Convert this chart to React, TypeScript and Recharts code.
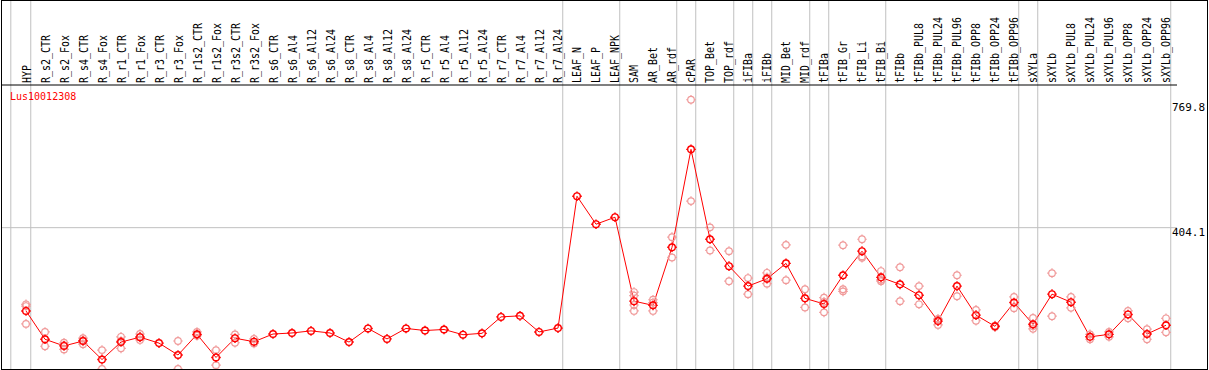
import React from 'react';
import { ComposedChart, Line, Scatter, XAxis, YAxis, ReferenceLine } from 'recharts';

const categories = [
  'HYP', 'R_s2_CTR', 'R_s2_Fox', 'R_s4_CTR', 'R_s4_Fox', 'R_r1_CTR', 'R_r1_Fox', 'R_r3_CTR', 'R_r3_Fox',
  'R_r1s2_CTR', 'R_r1s2_Fox', 'R_r3s2_CTR', 'R_r3s2_Fox', 'R_s6_CTR', 'R_s6_Al4', 'R_s6_Al12', 'R_s6_Al24',
  'R_s8_CTR', 'R_s8_Al4', 'R_s8_Al12', 'R_s8_Al24', 'R_r5_CTR', 'R_r5_Al4', 'R_r5_Al12', 'R_r5_Al24',
  'R_r7_CTR', 'R_r7_Al4', 'R_r7_Al12', 'R_r7_Al24', 'LEAF_N', 'LEAF_P', 'LEAF_NPK', 'SAM', 'AR_Bet', 'AR_rdf',
  'cPAR', 'TOP_Bet', 'TOP_rdf', 'iFIBa', 'iFIBb', 'MID_Bet', 'MID_rdf', 'tFIBa', 'tFIB_Gr', 'tFIB_Li', 'tFIB_Bi',
  'tFIBb', 'tFIBb_PUL8', 'tFIBb_PUL24', 'tFIBb_PUL96', 'tFIBb_OPP8', 'tFIBb_OPP24', 'tFIBb_OPP96', 'sXYLa',
  'sXYLb', 'sXYLb_PUL8', 'sXYLb_PUL24', 'sXYLb_PUL96', 'sXYLb_OPP8', 'sXYLb_OPP24', 'sXYLb_OPP96',
];

const means = [
  166, 85, 66, 80, 27, 77, 91, 74, 40, 99, 33, 88, 78,
  100, 103, 109, 103, 77, 116, 86, 116, 110, 113, 98, 102, 149, 152, 106, 117,
  494, 414, 434, 194, 182, 348, 628, 371, 294, 237, 258, 302, 202, 186, 268, 337, 262,
  242, 211, 137, 237, 154, 122, 190, 128, 214, 191, 92, 99, 156, 100, 125,
];

const rep1 = [
  185, 106, 75, 88, 54, 92, 100, null, 80, 106, 54, 99, 86,
  null, null, null, null, null, null, null, null, null, null, null, null, null, null, null, null,
  null, null, null, 220, 198, 377, 769.8, 405, 337, 260, 275, 355, 228, 204, 354, 371, 280,
  291, 237, 142, 268, 169, 124, 206, 146, 274, 206, 99, 106, 166, 114, 145,
];

const rep2 = [
  180, 65, 56, 71, 0, 59, 83, null, 0, 97, 11, 75, 73,
  null, null, null, null, null, null, null, null, null, null, null, null, null, null, null, null,
  null, null, null, 210, 166, 319, 480, 339, 251, 214, 244, 254, 176, 162, 228, 318, 255,
  194, 185, 126, 208, 138, 120, 174, 115, 151, 175, 85, 92, 145, 85, 105,
];

const rep3 = [
  129, null, 68, 82, null, 80, 92, null, null, 95, null, null, null,
  null, null, null, null, null, null, null, null, null, null, null, null, null, null, null, null,
  null, null, null, 183, 190, null, null, null, null, null, 262, null, null, 192, 222, 322, 251,
  null, null, 143, null, null, null, null, 123, null, null, null, null, null, null, null,
];

const rep4 = [
  null, null, null, null, null, null, null, null, null, null, null, null, null,
  null, null, null, null, null, null, null, null, null, null, null, null, null, null, null, null,
  null, null, null, 166, null, null, null, null, null, null, null, null, null, null, null, null, null,
  null, null, null, null, null, null, null, null, null, null, null, null, null, null, null,
];

// separators between sample groups, in category-index units
const groupBreaks = [-0.8, 0.25, 28.25, 31.25, 34.25, 35.25, 37.25, 38.25, 39.25, 41.25, 42.25, 45.25, 52.25, 53.25, 60.25];
const yTicks = [0, 404.1, 769.8];
const geneId = 'Lus10012308';

const rows = categories.map((name, i) => ({
  i,
  name,
  mean: means[i],
  r1: rep1[i],
  r2: rep2[i],
  r3: rep3[i],
  r4: rep4[i],
}));

const MONO = '"DejaVu Sans Mono", "Liberation Mono", monospace';
const RED = '#ff0000';
const PINK = '#f09a9a';
const GRID = '#c0c0c0';

const Marker = ({ cx, cy, color, w }) => {
  if (cx == null || cy == null || isNaN(cy)) return null;
  const r = 3.3;
  return (
    <g stroke={color} strokeWidth={w} fill="none">
      <circle cx={cx} cy={cy} r={r} />
      <line x1={cx} y1={cy - r - 1.5} x2={cx} y2={cy - r} />
      <line x1={cx} y1={cy + r} x2={cx} y2={cy + r + 1.5} />
      <line x1={cx - r - 1.5} y1={cy} x2={cx - r} y2={cy} />
      <line x1={cx + r} y1={cy} x2={cx + r + 1.5} y2={cy} />
    </g>
  );
};

const MeanDot = (props) => <Marker key={`m-${props.index}`} cx={props.cx} cy={props.cy} color={RED} w={1.4} />;
const RepDot = (props) => <Marker cx={props.cx} cy={props.cy} color={PINK} w={1.2} />;

const XTick = ({ x, y, payload }) => {
  const label = categories[payload.value];
  if (label == null) return null;
  return (
    <text
      transform={`translate(${x + 4.5},${y}) rotate(-90) scale(0.83,1)`}
      textAnchor="start"
      fontFamily={MONO}
      fontSize={12}
      fill="#000"
    >
      {label}
    </text>
  );
};

const YTick = ({ x, y, payload }) => {
  const v = payload.value;
  const dy = v === 0 ? -3 : v > 700 ? 11 : 8.5;
  const dx = v === 0 ? 2 : -5;
  return (
    <text x={x + dx} y={y + dy} fontFamily={MONO} fontSize={11} fill="#000">
      {v}
    </text>
  );
};

const FullLine = (props) => {
  const { x1, x2, y1, y2 } = props;
  return <line x1={x1} x2={x2} y1={0} y2={Math.max(y1, y2)} stroke={GRID} strokeWidth={1} />;
};

const App = () => {
  return (
    <div style={{ position: 'absolute', left: 0, top: 0, width: 1209, height: 370, background: '#fff' }}>
      <ComposedChart width={1209} height={370} data={rows} margin={{ top: 0, right: 2, bottom: 1, left: 2 }}>
        <XAxis
          xAxisId={0}
          dataKey="i"
          type="number"
          orientation="top"
          domain={[-1.2632, 60.579]}
          allowDataOverflow
          ticks={rows.map((r) => r.i)}
          interval={0}
          height={85}
          tickLine={false}
          tickSize={0}
          tickMargin={2}
          axisLine={{ stroke: '#000', strokeWidth: 1 }}
          tick={<XTick />}
        />
        <YAxis
          type="number"
          orientation="right"
          domain={[0, 812]}
          allowDataOverflow
          ticks={yTicks}
          width={30}
          axisLine={false}
          tickLine={false}
          tickSize={0}
          tickMargin={0}
          tick={<YTick />}
        />
        <ReferenceLine y={404.1} stroke={GRID} strokeWidth={1} />
        {groupBreaks.map((b) => (
          <ReferenceLine key={`gb-${b}`} x={b} shape={FullLine} ifOverflow="visible" />
        ))}
        <Scatter data={rows.filter((r) => r.r1 != null)} dataKey="r1" shape={RepDot} isAnimationActive={false} />
        <Scatter data={rows.filter((r) => r.r2 != null)} dataKey="r2" shape={RepDot} isAnimationActive={false} />
        <Scatter data={rows.filter((r) => r.r3 != null)} dataKey="r3" shape={RepDot} isAnimationActive={false} />
        <Scatter data={rows.filter((r) => r.r4 != null)} dataKey="r4" shape={RepDot} isAnimationActive={false} />
        <Line
          dataKey="mean"
          stroke={RED}
          strokeWidth={1}
          dot={MeanDot}
          activeDot={false}
          isAnimationActive={false}
        />
      </ComposedChart>
      <div
        style={{
          position: 'absolute',
          left: 10,
          top: 92,
          fontFamily: MONO,
          fontSize: 10,
          lineHeight: 1,
          color: RED,
        }}
      >
        {geneId}
      </div>
      <div
        style={{
          position: 'absolute',
          left: 1,
          top: 0,
          width: 1207,
          height: 370,
          boxSizing: 'border-box',
          border: '1px solid #000',
          pointerEvents: 'none',
        }}
      />
    </div>
  );
};

export default App;
